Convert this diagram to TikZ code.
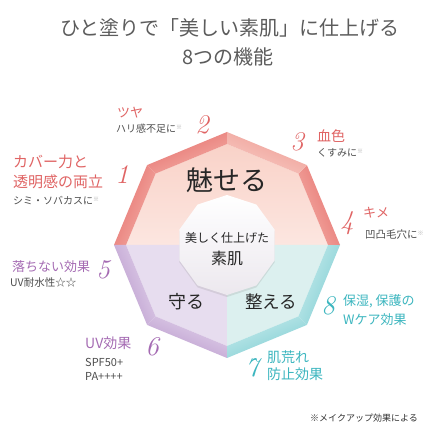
\documentclass[tikz,border=0pt]{standalone}
\usepackage{fontspec}
\usetikzlibrary{shadows}
\newfontfamily\cjk{Noto Sans CJK JP}
\definecolor{redT}{HTML}{E06464}
\definecolor{purT}{HTML}{A56BB3}
\definecolor{tealT}{HTML}{3CB6BF}
\definecolor{grayT}{HTML}{4D4D4D}
\definecolor{titleT}{HTML}{5C5C5C}
\definecolor{redO}{HTML}{E56E6B}
\definecolor{redI}{HTML}{F4B0A8}
\definecolor{redOb}{HTML}{EE9A92}
\definecolor{redIb}{HTML}{F8CCC5}
\definecolor{purO}{HTML}{B896CB}
\definecolor{purI}{HTML}{E3D5EC}
\definecolor{tealO}{HTML}{7DCDD2}
\definecolor{tealI}{HTML}{C7EBEC}
\definecolor{pkTop}{HTML}{F9D2C8}
\definecolor{pkBot}{HTML}{FCE6E0}
\definecolor{lav}{HTML}{E7DDEF}
\definecolor{tl}{HTML}{DCF0EF}
\definecolor{cgray}{HTML}{ECE8EE}
\newcommand{\fs}[1]{\fontsize{#1}{#1}\selectfont}
\newcommand{\kome}{{\color{gray!70}\fontsize{6}{6}\selectfont\raisebox{3pt}{※}}}
\tikzset{
  lbl/.style={inner sep=0pt, anchor=west, font=\cjk},
  numlbl/.style={inner sep=0pt, font=\fs{27}\itshape},
  big/.style={inner sep=0pt, font=\cjk, text=black!85}
}
\begin{document}
\begin{tikzpicture}[x=1pt,y=1pt]
\useasboundingbox (0,0) rectangle (440,440);
\fill[white] (0,0) rectangle (440,440);
% title
\node[inner sep=0pt, font=\cjk\fs{20}, text=titleT] (t1) at (230,412) {ひと塗りで「美しい素肌」に仕上げる};
\node[inner sep=0pt, font=\cjk\fs{20}, text=titleT] (t2) at (228,383) {8つの機能};
% octagon
\begin{scope}[shift={(227,195)}]
  \shade[top color=pkTop, bottom color=pkBot] (180:101) -- (135:101) -- (90:101) -- (45:101) -- (0:101) -- cycle;
  \fill[lav] (0,0) -- (180:101) -- (225:101) -- (270:101) -- cycle;
  \fill[tl] (0,0) -- (270:101) -- (315:101) -- (0:101) -- cycle;
  \foreach \k/\co/\ci in {0/redO/redI, 1/redO/redI, 2/purO/purI, 3/purO/purI, 4/tealO/tealI, 5/tealO/tealI, 6/redO/redI, 7/redOb/redIb} {
    \pgfmathsetmacro\a{90+45*\k}
    \pgfmathsetmacro\b{\a+45}
    \pgfmathsetmacro\s{\a-67.5}
    \shade[top color=\co, bottom color=\ci, shading angle=\s] (\a:113) -- (\b:113) -- (\b:101) -- (\a:101) -- cycle;
  }
  \path[drop shadow={shadow xshift=0pt, shadow yshift=-2pt, opacity=0.18, fill=gray}, top color=white, bottom color=cgray]
    (90:50) -- (126:50) -- (162:50) -- (198:50) -- (234:50) -- (270:50) -- (306:50) -- (342:50) -- (18:50) -- (54:50) -- cycle;
\end{scope}
% inner texts
\node[big, font=\cjk\fs{27}] (m) at (227,260) {魅せる};
\node[big, font=\cjk\fs{18}] (mamoru) at (186,138) {守る};
\node[big, font=\cjk\fs{17.5}] (totonoeru) at (271,138) {整える};
\node[big, font=\cjk\fs{12}] (c1) at (227,202) {美しく仕上げた};
\node[big, font=\cjk\fs{16}] (c2) at (227,182) {素肌};
% numbers
\node[numlbl, text=redT] (n1) at (122,265) {1};
\node[numlbl, text=redT] (n2) at (202,315) {2};
\node[numlbl, text=redT] (n3) at (297,298) {3};
\node[numlbl, text=redT] (n4) at (347,217) {4};
\node[numlbl, text=purT] (n5) at (103,170) {5};
\node[numlbl, text=purT] (n6) at (152,93) {6};
\node[numlbl, text=tealT] (n7) at (252,72) {7};
\node[numlbl, text=tealT] (n8) at (328,134) {8};
% labels
\node[lbl, text=redT, font=\cjk\fs{13}] (l2a) at (117,327) {ツヤ};
\node[lbl, text=grayT, font=\cjk\fs{10}] (l2b) at (116,311) {ハリ感不足に\kome};
\node[lbl, text=redT, font=\cjk\fs{15}] (l1a) at (13,278) {カバー力と};
\node[lbl, text=redT, font=\cjk\fs{15}] (l1b) at (13,258) {透明感の両立};
\node[lbl, text=grayT, font=\cjk\fs{10}] (l1c) at (13,239) {シミ・ソバカスに\kome};
\node[lbl, text=redT, font=\cjk\fs{14}] (l3a) at (317,304) {血色};
\node[lbl, text=grayT, font=\cjk\fs{10}] (l3b) at (317,287) {くすみに\kome};
\node[lbl, text=redT, font=\cjk\fs{13}] (l4a) at (363,227) {キメ};
\node[lbl, text=grayT, font=\cjk\fs{10.5}] (l4b) at (365,205) {凹凸毛穴に\kome};
\node[lbl, text=purT, font=\cjk\fs{13}] (l5a) at (12,173) {落ちない効果};
\node[lbl, text=grayT, font=\cjk\fs{10.5}] (l5b) at (10,157) {UV耐水性☆☆};
\node[lbl, text=purT, font=\cjk\fs{14}] (l6a) at (85,97) {UV効果};
\node[lbl, text=grayT, font=\cjk\fs{11}] (l6b) at (85,78) {SPF50+};
\node[lbl, text=grayT, font=\cjk\fs{11}] (l6c) at (85,64) {PA++++};
\node[lbl, text=tealT, font=\cjk\fs{14}] (l7a) at (267,83) {肌荒れ};
\node[lbl, text=tealT, font=\cjk\fs{14}] (l7b) at (267,66) {防止効果};
\node[lbl, text=tealT, font=\cjk\fs{13}] (l8a) at (343,139) {保湿, 保護の};
\node[lbl, text=tealT, font=\cjk\fs{13}] (l8b) at (343,120) {Wケア効果};
\node[lbl, text=black!80, font=\cjk\fs{9}] (note) at (310,22) {※メイクアップ効果による};
\end{tikzpicture}
\end{document}
